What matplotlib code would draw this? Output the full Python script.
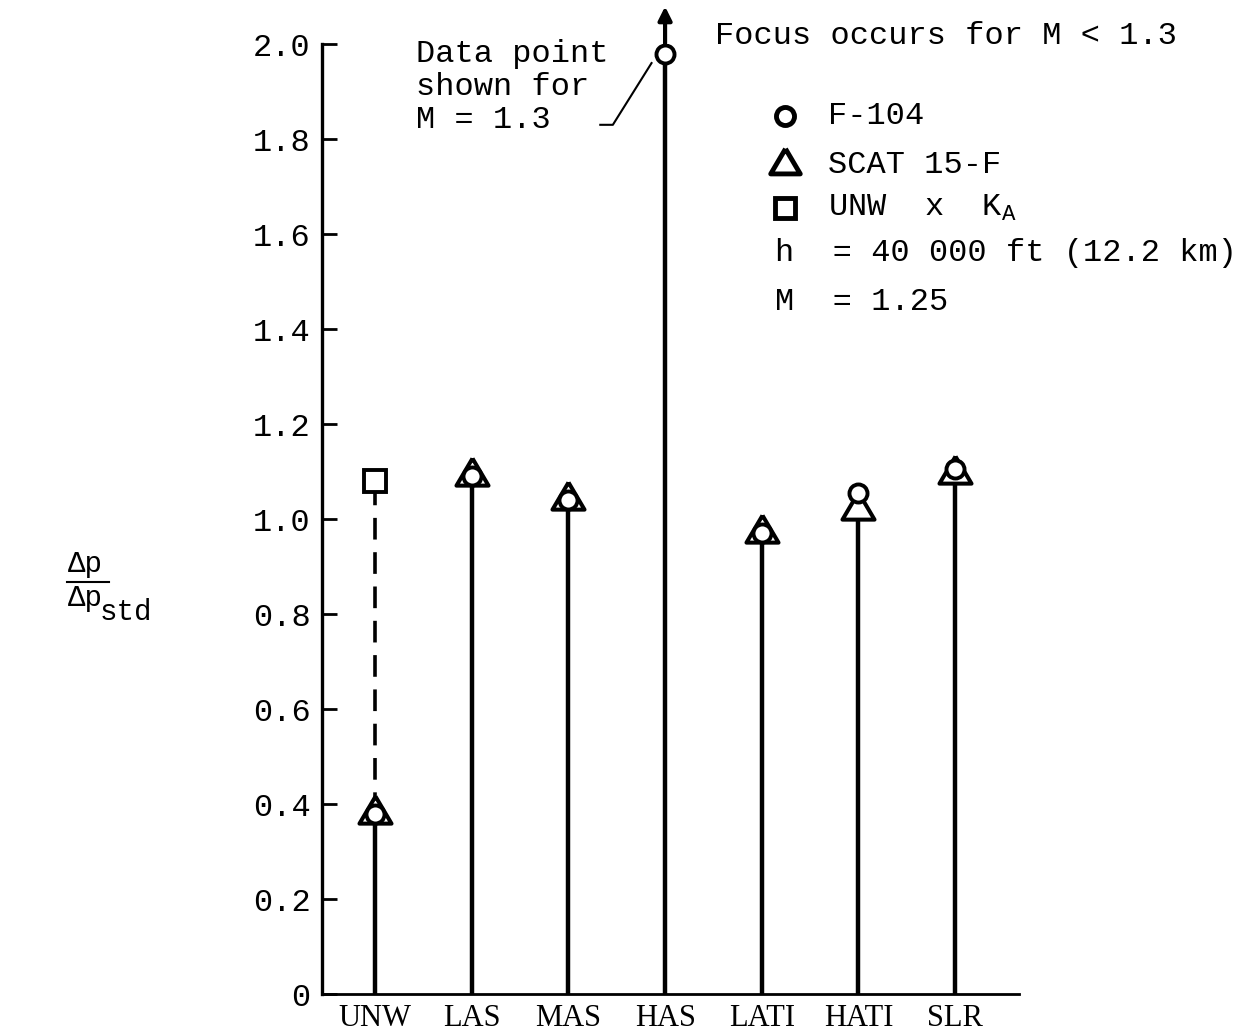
import numpy as np
from matplotlib import pyplot as plt
from matplotlib.lines import Line2D

# values
cats = ['UNW', 'LAS', 'MAS', 'HAS', 'LATI', 'HATI', 'SLR']
f104 = [0.38, 1.09, 1.04, 1.98, 0.97, 1.055, 1.105]
scat = [0.38, 1.09, 1.04, np.nan, 0.97, 1.02, 1.095]
unw_ka = 1.08
yticks = [0, 0.2, 0.4, 0.6, 0.8, 1.0, 1.2, 1.4, 1.6, 1.8, 2.0]
ylabels = ['0', '0.2', '0.4', '0.6', '0.8', '1.0', '1.2', '1.4', '1.6', '1.8', '2.0']

mono = 'Liberation Mono'
plt.rcParams['font.family'] = [mono, 'DejaVu Sans']
plt.rcParams['mathtext.default'] = 'regular'

# triangle whose incircle sits on the data point (circle drawn inside it)
tri = [(0, 18.6), (-16.5, -9.4), (16.5, -9.4), (0, 18.6)]

fig = plt.figure(figsize=(12.48, 10.32), dpi=100)
ax = fig.add_axes([0.258, 0.0368, 0.5585, 0.9205])

xs = np.arange(1, len(cats) + 1)
f104 = np.array(f104)
scat = np.array(scat)
tops = np.fmax(f104, scat)

# stems
for x, t in zip(xs, tops):
    ax.plot([x, x], [0, t], color='k', lw=3.2, solid_capstyle='butt', zorder=2)
ax.plot([xs[0], xs[0]], [tops[0], unw_ka], color='k', lw=2.6, ls=(0, (6, 3.5)), zorder=2)

# arrow above HAS: focus region
ax.annotate('', xy=(xs[3], 2.085), xytext=(xs[3], f104[3]),
            arrowprops=dict(arrowstyle='-|>', color='k', lw=3, mutation_scale=20),
            annotation_clip=False, zorder=2)

# markers
ax.plot(xs, scat, ls='none', marker=tri, ms=26, mfc='white', mec='k', mew=2.9, zorder=3)
ax.plot(xs, f104, ls='none', marker='o', ms=13, mfc='white', mec='k', mew=2.8, zorder=4)
ax.plot([xs[0]], [unw_ka], ls='none', marker='s', ms=16, mfc='white', mec='k', mew=2.8, zorder=4)

ax.set_xlim(0.452, 7.66)
ax.set_ylim(0, 2.0)
ax.set_yticks(yticks, ylabels)
ax.set_xticks(xs, cats, family='Liberation Serif', fontsize=22)
ax.tick_params(axis='y', direction='in', length=11, width=2, pad=8, labelsize=23)
ax.tick_params(axis='x', length=0, pad=7)
for s in ['top', 'right']:
    ax.spines[s].set_visible(False)
ax.spines['left'].set_linewidth(2.4)
ax.spines['bottom'].set_linewidth(2.0)

# notes
ax.text(0.564, 1.008, 'Focus occurs for M < 1.3', transform=ax.transAxes,
        fontsize=23, va='center', ha='left')
ax.text(1.42, 1.91, 'Data point\nshown for\nM = 1.3', fontsize=23,
        va='center', ha='left', linespacing=1.13)
ax.plot([3.33, 3.46, 3.86], [1.83, 1.83, 1.96], color='k', lw=1.5, zorder=2)

# legend block
lx, tx = 0.664, 0.726
rows = [(0.924, 'o', 13, 'F-104'), (0.873, tri, 24, 'SCAT 15-F'),
        (0.827, 's', 14, 'UNW  x  K$_{A}$')]
for y, m, ms, lab in rows:
    ax.plot([lx], [y], transform=ax.transAxes, marker=m, ms=ms, mfc='white',
            mec='k', mew=3.5, ls='none', clip_on=False)
    ax.text(tx, y, lab, transform=ax.transAxes, fontsize=23, va='center', ha='left')
ax.text(0.65, 0.780, 'h  = 40 000 ft (12.2 km)', transform=ax.transAxes,
        fontsize=23, va='center', ha='left')
ax.text(0.65, 0.729, 'M  = 1.25', transform=ax.transAxes,
        fontsize=23, va='center', ha='left')

# y label as fraction
fig.text(0.054, 0.440, '\u0394p', fontsize=21, ha='left', va='bottom')
fig.add_artist(Line2D([0.054, 0.087], [0.436, 0.436], color='k', lw=1.5))
fig.text(0.054, 0.434, '\u0394p', fontsize=21, ha='left', va='top')
fig.text(0.080, 0.421, 'std', fontsize=21, ha='left', va='top')

fig.savefig('out.png', dpi=100)
